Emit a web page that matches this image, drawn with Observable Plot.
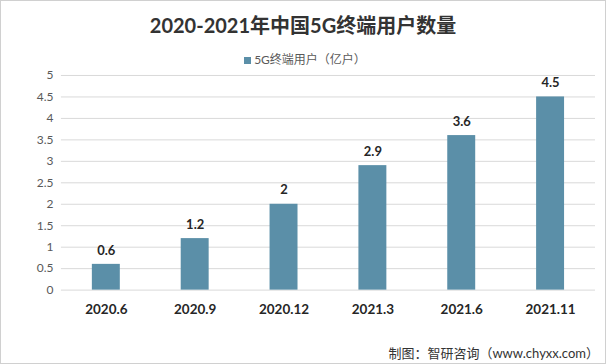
<!DOCTYPE html>
<html><head><meta charset="utf-8">
<script src="https://cdn.jsdelivr.net/npm/d3@7"></script>
<script src="https://cdn.jsdelivr.net/npm/@observablehq/plot@0.6"></script>
<style>
body{margin:0;background:#fff;}
#wrap{position:relative;width:606px;height:364px;box-sizing:border-box;border:1px solid #d0d0d0;font-family:Lato,"Noto Sans CJK SC",sans-serif;overflow:hidden;}
#title{position:absolute;top:9px;left:0;width:100%;text-align:center;font-size:20px;font-weight:bold;color:#333;}
#legend{position:absolute;top:49px;left:2px;width:100%;text-align:center;font-size:12px;color:#595959;}
#legend span.sw{display:inline-block;width:7px;height:7px;background:#5b8fa8;margin-right:3px;vertical-align:0px;}
#chart{position:absolute;top:63px;left:-1px;}
#caption{position:absolute;top:342px;right:6px;font-size:13px;color:#333;}
</style></head>
<body>
<div id="wrap">
<div id="title">2020-2021年中国5G终端用户数量</div>
<div id="legend"><span class="sw"></span>5G终端用户（亿户）</div>
<div id="chart"></div>
<div id="caption">制图：智研咨询（www.chyxx.com）</div>
</div>
<script>
const categories = ["2020.6","2020.9","2020.12","2021.3","2021.6","2021.11"];
const values = [0.6, 1.2, 2, 2.9, 3.6, 4.5];
const yTicks = [0,0.5,1,1.5,2,2.5,3,3.5,4,4.5,5];
const data = categories.map((c,i)=>({cat:c, v:values[i]}));
const chart = Plot.plot({
  width: 606, height: 260,
  marginTop: 11, marginBottom: 34, marginLeft: 61, marginRight: 10,
  style: {fontFamily: 'Lato,"Noto Sans CJK SC",sans-serif', fontSize: "12px", background: "transparent"},
  x: {domain: categories, paddingInner: 0.69, paddingOuter: 0.345, label: null},
  y: {domain: [0,5], label: null},
  marks: [
    Plot.ruleY(yTicks, {stroke: "#d9d9d9", strokeWidth: 1}),
    Plot.barY(data, {x: "cat", y: "v", fill: "#5b8fa8"}),
    Plot.text(data, {x: "cat", y: "v", text: d => String(d.v), dy: -14, fontWeight: "bold", fill: "#262626", fontSize: 13}),
    Plot.axisY(yTicks, {tickSize: 0, tickPadding: 8, fill: "#595959", tickFormat: d => String(d), fontSize: 12, label: null}),
    Plot.axisX({tickSize: 0, tickPadding: 14, fontWeight: "bold", fill: "#262626", fontSize: 13.5, label: null})
  ]
});
document.getElementById("chart").appendChild(chart);
</script>
</body></html>
